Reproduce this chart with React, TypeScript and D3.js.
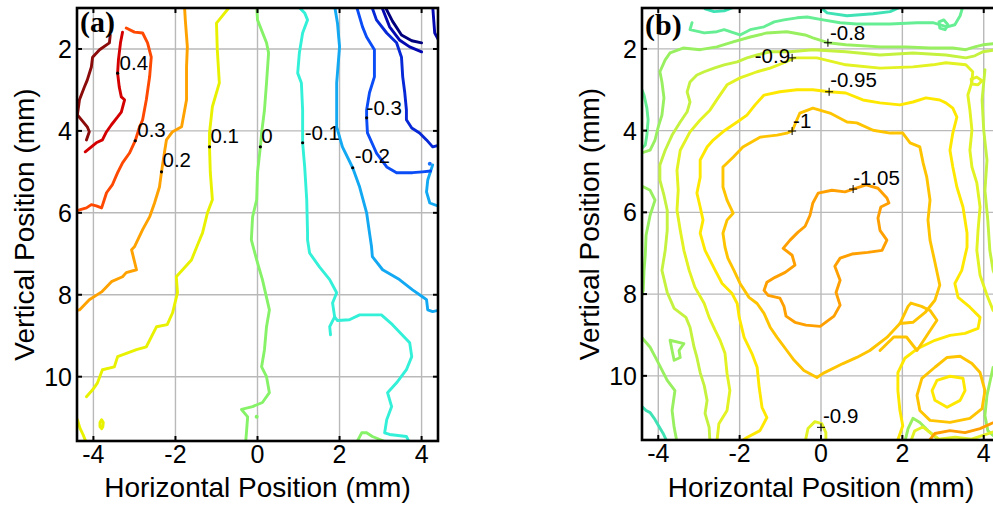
import React from "react";
import * as d3 from "d3";

type Pt = [number, number];
type Contour = { level: number; pts: Pt[]; closed?: boolean };

// ---------- axes ----------
const xDomain: [number, number] = [-4.4, 4.4];
const yDomain: [number, number] = [1.0, 11.57];
const xTickValues = [-4, -2, 0, 2, 4];
const yTickValues = [2, 4, 6, 8, 10];
const xTickLabels = ["-4", "-2", "0", "2", "4"];
const yTickLabels = ["2", "4", "6", "8", "10"];
const xLabel = "Horizontal Position (mm)";
const yLabel = "Vertical Position (mm)";

// ---------- panel (a) contour lines (x mm, y mm) ----------
const a05: Pt[] = [[-3.59,1.66],[-3.61,1.85],[-3.85,2.02],[-4.02,2.20],[-4.05,2.44],[-4.15,2.76],[-4.22,2.93],[-4.34,3.24],[-4.39,3.61],[-4.29,3.73],[-4.15,3.90],[-4.10,4.02],[-4.17,4.22]];
const a04: Pt[] = [[-3.29,1.59],[-3.34,1.85],[-3.39,2.27],[-3.41,2.59],[-3.37,2.93],[-3.32,3.17],[-3.24,3.24],[-3.32,3.54],[-3.41,3.66],[-3.56,3.85],[-3.68,4.02],[-3.78,4.22],[-3.93,4.29],[-4.20,4.51]];
const a03: Pt[] = [[-3.20,1.49],[-3.00,1.59],[-2.80,1.61],[-2.68,1.85],[-2.59,2.20],[-2.63,2.68],[-2.71,3.24],[-2.80,3.73],[-2.90,3.98],[-2.98,4.24],[-3.12,4.54],[-3.29,4.78],[-3.41,5.02],[-3.54,5.32],[-3.68,5.51],[-3.80,5.88],[-3.93,5.83],[-4.05,5.80],[-4.17,5.88],[-4.34,5.93],[-4.45,5.95]];
const a02: Pt[] = [[-1.78,0.95],[-1.76,1.29],[-1.71,1.95],[-1.73,2.44],[-1.73,3.24],[-1.85,3.90],[-2.07,4.02],[-2.22,4.22],[-2.27,4.54],[-2.34,5.00],[-2.39,5.37],[-2.51,5.76],[-2.63,6.10],[-2.80,6.41],[-3.00,6.83],[-3.07,6.90],[-2.95,7.39],[-3.20,7.46],[-3.29,7.56],[-3.56,7.68],[-3.80,7.93],[-4.10,8.12],[-4.34,8.37],[-4.45,8.39]];
const a01: Pt[] = [[-0.66,0.95],[-1.00,1.37],[-0.98,2.02],[-0.93,2.83],[-1.10,3.41],[-1.17,4.05],[-1.17,4.39],[-1.15,5.02],[-1.10,5.68],[-1.22,6.00],[-1.34,6.49],[-1.44,6.73],[-1.61,7.15],[-1.98,7.56],[-1.95,7.95],[-2.07,8.44],[-2.20,8.73],[-2.46,8.78],[-2.71,9.27],[-2.95,9.34],[-3.41,9.51],[-3.49,9.76],[-3.78,9.83],[-3.90,10.15],[-4.02,10.32],[-4.17,10.49]];
const a01Loop: Pt[] = [[-3.80,11.05],[-3.76,11.12],[-3.77,11.22],[-3.80,11.27],[-3.84,11.22],[-3.84,11.12]];
const a01Corner: Pt[] = [[-4.45,10.98],[-4.39,11.05],[-4.33,11.25],[-4.25,11.42],[-4.17,11.62]];
const a00: Pt[] = [[-0.02,0.95],[0.00,1.29],[0.22,1.85],[0.27,2.10],[0.22,2.83],[0.17,3.49],[0.10,4.05],[0.07,4.39],[0.00,5.02],[-0.02,5.68],[-0.12,6.10],[-0.15,6.66],[-0.02,7.15],[0.12,7.63],[0.29,8.37],[0.22,8.78],[0.17,9.34],[0.10,9.76],[0.22,10.00],[0.29,10.39],[0.12,10.63],[-0.12,10.73],[-0.39,10.80],[-0.24,10.98],[-0.27,11.37],[-0.29,11.62]];
const a00Bottom: Pt[] = [[2.41,11.62],[2.54,11.37],[2.66,11.37],[2.80,11.46],[3.15,11.60]];
const aM01: Pt[] = [[0.98,0.95],[1.15,1.12],[1.22,1.29],[1.10,1.61],[1.02,2.10],[0.98,2.59],[1.07,2.83],[1.10,3.49],[1.10,4.29],[1.15,4.88],[1.20,5.68],[1.22,6.49],[1.22,6.66],[1.27,6.98],[1.51,7.32],[1.76,7.63],[1.93,7.95],[1.83,8.20],[1.88,8.54],[1.95,8.63],[2.24,8.61],[2.49,8.49],[3.02,8.49],[3.29,8.73],[3.71,9.17],[3.76,9.51],[3.63,9.83],[3.39,10.15],[3.17,10.39],[3.27,10.73],[3.15,11.05],[3.10,11.37],[3.22,11.41],[3.63,11.46],[3.71,11.62]];
const aM01Stub: Pt[] = [[1.88,8.54],[1.76,8.78],[1.78,8.98]];
const aM02: Pt[] = [[1.88,0.95],[1.95,1.37],[2.00,1.95],[1.93,2.83],[1.93,3.90],[2.07,4.39],[2.32,4.90],[2.49,5.37],[2.66,6.00],[2.73,6.49],[2.78,6.83],[2.80,7.07],[3.05,7.39],[3.46,7.63],[3.78,7.88],[4.02,8.05],[4.12,8.12],[4.15,8.37],[4.27,8.41],[4.45,8.37]];
const aM02Edge: Pt[] = [[4.27,4.83],[4.15,5.20],[4.12,5.49],[4.20,5.76],[4.45,5.85]];
const aM03: Pt[] = [[2.41,0.95],[2.56,1.46],[2.66,1.71],[2.85,2.02],[2.85,2.68],[2.73,3.07],[2.66,3.49],[2.66,3.68],[2.68,4.05],[2.90,4.54],[3.15,4.88],[3.39,5.02],[3.78,5.02],[4.02,5.00],[4.22,4.98]];
const aM04: Pt[] = [[2.78,0.95],[2.90,1.29],[3.15,1.61],[3.39,1.85],[3.51,2.20],[3.54,2.68],[3.59,3.07],[3.63,3.49],[3.63,3.73],[3.76,3.93],[3.95,4.05],[4.12,4.22],[4.27,4.39],[4.45,4.34]];
const aM05: Pt[] = [[3.02,0.95],[3.22,1.46],[3.46,1.78],[3.71,1.95],[4.00,2.07]];
const aM06: Pt[] = [[3.10,0.95],[3.29,1.32],[3.51,1.66],[3.76,1.80],[4.00,1.85]];
const aM05Edge: Pt[] = [[4.27,0.95],[4.32,1.61],[4.45,1.85]];

const contoursA: Contour[] = [
  { level: 0.5, pts: a05 }, { level: 0.4, pts: a04 }, { level: 0.3, pts: a03 },
  { level: 0.2, pts: a02 }, { level: 0.1, pts: a01 }, { level: 0.1, pts: a01Loop, closed: true },
  { level: 0.1, pts: a01Corner }, { level: 0, pts: a00 }, { level: 0, pts: a00Bottom },
  { level: -0.1, pts: aM01 }, { level: -0.1, pts: aM01Stub }, { level: -0.2, pts: aM02 },
  { level: -0.2, pts: aM02Edge }, { level: -0.3, pts: aM03 }, { level: -0.4, pts: aM04 },
  { level: -0.5, pts: aM05 }, { level: -0.6, pts: aM06 }, { level: -0.5, pts: aM05Edge },
];
const colorsA: Record<string, string> = {
  "0.5": "#8b0a0a", "0.4": "#d40000", "0.3": "#ff4800", "0.2": "#ffa200", "0.1": "#e8f200",
  "0": "#86f268", "-0.1": "#33f0d8", "-0.2": "#12a8f2", "-0.3": "#0a4cf5", "-0.4": "#0628d6",
  "-0.5": "#0408b0", "-0.6": "#00007e",
};
const aSpots: Pt[] = [[4.20, 4.80], [-0.02, 10.98]];
const aSpotLevels = [-0.25, 0];

const aLabelText = ["0.4", "0.3", "0.2", "0.1", "0", "-0.1", "-0.2", "-0.3"];
const aLabelAt: Pt[] = [[-3.41,2.59],[-2.98,4.24],[-2.34,5.00],[-1.17,4.39],[0.07,4.39],[1.10,4.29],[2.32,4.90],[2.66,3.68]];

// ---------- panel (b) contour lines ----------
const bM105: Pt[] = [[0.79,5.43],[1.11,5.33],[1.40,5.41],[1.62,5.65],[1.67,5.77],[1.47,5.87],[1.40,6.14],[1.45,6.44],[1.62,6.68],[1.50,6.93],[1.15,6.98],[0.76,7.02],[0.47,7.12],[0.34,7.32],[0.47,7.66],[0.37,7.96],[0.47,8.27],[0.32,8.54],[-0.02,8.79],[-0.37,8.76],[-0.64,8.69],[-0.86,8.54],[-0.91,8.30],[-1.01,8.10],[-1.30,8.03],[-1.40,7.91],[-1.33,7.71],[-1.13,7.59],[-0.88,7.47],[-0.64,7.29],[-0.71,7.05],[-0.93,6.88],[-0.76,6.68],[-0.57,6.49],[-0.39,6.34],[-0.27,6.07],[-0.20,5.77],[-0.07,5.53],[0.27,5.46],[0.59,5.50]];
const bM100: Pt[] = [[-0.71,4.01],[-0.52,3.57],[-0.20,3.45],[0.22,3.57],[0.64,3.79],[0.88,3.81],[1.28,3.99],[1.70,4.06],[2.01,4.06],[2.19,4.30],[2.43,4.40],[2.51,4.79],[2.60,5.14],[2.68,5.70],[2.63,6.19],[2.68,6.68],[2.80,7.22],[2.92,7.78],[2.80,8.15],[2.56,8.45],[2.26,8.69],[1.94,8.72],[1.62,9.06],[1.20,9.38],[0.88,9.55],[0.54,9.70],[0.05,9.94],[-0.10,10.04],[-0.42,9.87],[-0.66,9.62],[-0.84,9.38],[-1.08,9.06],[-1.25,8.81],[-1.40,8.47],[-1.57,8.23],[-1.77,8.08],[-1.99,7.74],[-2.14,7.42],[-2.29,7.12],[-2.36,6.85],[-2.41,6.51],[-2.31,6.19],[-2.16,6.02],[-2.31,5.70],[-2.41,5.38],[-2.41,4.89],[-2.16,4.65],[-1.92,4.40],[-1.50,4.16],[-1.08,4.11],[-0.84,4.06]];
const bM100Tail: Pt[] = [[1.94,8.72],[2.14,8.30],[2.21,8.22],[2.47,8.30],[2.68,8.40],[2.85,8.64],[2.61,9.00],[2.36,9.38],[2.10,9.05],[1.79,9.05],[1.45,9.38]];
const bM095: Pt[] = [[1.87,11.62],[2.01,11.22],[1.94,10.85],[1.89,10.36],[1.89,9.92],[2.06,9.57],[2.38,9.33],[2.80,9.13],[3.17,9.01],[3.54,8.96],[3.86,8.84],[3.91,8.57],[3.66,8.32],[3.37,8.08],[3.29,7.74],[3.46,7.42],[3.59,6.85],[3.59,6.51],[3.49,5.87],[3.34,5.38],[3.24,4.89],[3.17,4.48],[3.24,4.06],[3.34,3.67],[3.24,3.45],[3.07,3.32],[2.92,3.25],[2.58,3.20],[2.26,3.30],[1.94,3.37],[1.45,3.32],[1.03,3.25],[0.61,3.08],[0.20,3.05],[-0.20,3.00],[-0.59,3.00],[-1.01,3.05],[-1.40,3.13],[-1.62,3.37],[-1.82,3.62],[-2.06,3.79],[-2.36,3.99],[-2.65,4.23],[-2.80,4.40],[-2.97,4.72],[-2.97,5.14],[-3.05,5.53],[-2.97,5.87],[-2.90,6.19],[-2.97,6.51],[-2.85,6.93],[-2.60,7.42],[-2.43,7.74],[-2.19,7.98],[-2.06,8.23],[-2.01,8.57],[-1.89,9.06],[-1.70,9.45],[-1.57,9.79],[-1.52,10.28],[-1.45,10.77],[-1.33,11.02],[-1.50,11.34],[-1.82,11.51],[-1.99,11.62]];
const bM090: Pt[] = [[-2.56,11.62],[-2.51,11.17],[-2.31,10.85],[-2.24,10.36],[-2.31,9.94],[-2.36,9.45],[-2.48,9.13],[-2.60,8.89],[-2.75,8.57],[-2.87,8.23],[-3.10,7.83],[-3.24,7.42],[-3.37,6.93],[-3.46,6.44],[-3.54,5.95],[-3.51,5.46],[-3.54,4.97],[-3.46,4.48],[-3.22,4.03],[-2.97,3.74],[-2.73,3.50],[-2.53,3.20],[-2.31,2.88],[-1.99,2.71],[-1.57,2.56],[-1.25,2.47],[-0.91,2.34],[-0.66,2.22],[-0.10,2.22],[0.61,2.39],[1.45,2.47],[2.26,2.44],[2.75,2.39],[3.07,2.34],[3.56,2.39],[3.73,2.56],[3.71,2.81],[3.61,3.13],[3.66,3.50],[3.71,3.99],[3.66,4.48],[3.71,4.89],[3.83,5.28],[3.91,5.87],[3.86,6.44],[3.83,6.93],[3.91,7.54],[4.08,8.03],[4.23,8.40],[4.45,8.60]];
const bM085: Pt[] = [[-2.73,11.62],[-2.75,11.26],[-2.85,10.92],[-2.80,10.60],[-2.87,10.24],[-2.97,9.92],[-3.05,9.55],[-3.12,9.30],[-3.22,8.81],[-3.32,8.57],[-3.61,8.35],[-3.78,7.96],[-3.91,7.42],[-3.83,6.93],[-3.78,6.44],[-3.78,5.95],[-3.86,5.58],[-3.96,5.21],[-3.96,4.84],[-3.83,4.48],[-3.66,4.11],[-3.46,3.79],[-3.29,3.54],[-3.22,3.30],[-3.29,3.05],[-3.22,2.81],[-3.05,2.64],[-2.87,2.56],[-2.63,2.47],[-2.38,2.39],[-2.06,2.32],[-1.82,2.22],[-1.57,2.15],[-1.25,2.07],[-0.76,2.07],[-0.20,2.02],[0.61,2.07],[1.45,2.15],[2.26,2.10],[3.07,2.15],[3.56,2.22],[3.78,2.17],[3.98,2.07],[4.45,2.00]];
const bM085Right: Pt[] = [[4.03,2.51],[3.96,3.25],[4.00,3.99],[4.08,4.72],[4.03,5.46],[4.10,6.19],[4.15,6.93],[4.23,7.42],[4.35,7.70]];
const bM080: Pt[] = [[-4.45,4.56],[-4.20,4.48],[-4.08,4.23],[-4.00,3.91],[-3.91,3.62],[-3.86,3.20],[-3.91,2.81],[-3.96,2.56],[-3.83,2.27],[-3.71,2.10],[-3.39,1.98],[-2.97,2.02],[-2.56,1.95],[-2.16,1.83],[-1.74,1.71],[-1.33,1.61],[-0.84,1.58],[-0.39,1.66],[-0.20,1.73],[0.17,1.85],[0.61,1.90],[1.45,1.95],[2.09,1.95],[2.68,1.98],[3.24,1.98],[3.56,2.02],[3.78,1.95],[3.98,1.90],[4.45,1.85]];
const bM080Left: Pt[] = [[-4.45,5.33],[-4.20,5.46],[-4.08,5.70],[-4.20,6.07],[-4.30,6.56],[-4.32,7.05],[-4.35,7.42],[-4.37,7.91],[-4.45,8.23]];
const bM080Low: Pt[] = [[-4.45,9.01],[-4.20,9.30],[-4.03,9.62],[-3.78,10.11],[-3.59,10.36],[-3.66,10.85],[-3.61,11.26],[-3.54,11.62]];
const bM080Loop: Pt[] = [[-3.71,9.13],[-3.37,9.21],[-3.49,9.38],[-3.46,9.55],[-3.61,9.62],[-3.66,9.38]];
const bM080Corner: Pt[] = [[2.06,11.62],[2.14,11.29],[2.26,11.04],[2.43,11.14],[2.63,11.34],[2.83,11.51],[2.92,11.62]];
const bM080Edge: Pt[] = [[4.45,9.70],[4.23,9.79],[4.08,10.48],[4.03,10.97],[4.10,11.34],[4.23,11.46],[4.45,11.50]];
const bM075: Pt[] = [[-3.17,1.36],[-3.22,1.53],[-2.87,1.61],[-2.56,1.58],[-2.38,1.53],[-2.14,1.61],[-1.99,1.66],[-1.74,1.53],[-1.40,1.46],[-1.15,1.34],[-0.91,1.29],[-0.59,1.24],[-0.34,1.22],[0.05,1.29],[0.47,1.36],[0.88,1.39],[1.70,1.39],[2.36,1.36],[2.75,1.36],[3.10,1.46],[3.29,1.41],[3.42,1.19],[3.49,0.95]];
const bM075Edge: Pt[] = [[-4.45,2.88],[-4.35,3.13],[-4.28,3.45],[-4.25,3.74],[-4.28,4.11],[-4.32,4.35],[-4.45,4.48]];
const bM075Loop: Pt[] = [[2.90,1.34],[3.02,1.29],[3.12,1.41],[3.05,1.53],[2.92,1.49]];
const bM070Top1: Pt[] = [[-2.85,1.02],[-2.63,1.09],[-2.38,1.07],[-2.14,0.98]];
const bM070Top2: Pt[] = [[-0.02,0.98],[0.15,1.12],[0.64,1.19],[1.28,1.14],[1.70,1.09],[1.94,0.98]];
const bM070Low: Pt[] = [[-4.45,10.70],[-4.30,10.85],[-4.20,10.90],[-4.10,11.04],[-4.00,11.21],[-3.88,11.41],[-3.78,11.62]];
const bM090Loop: Pt[] = [[3.69,2.74],[3.83,2.69],[3.96,2.78],[3.86,2.88],[3.71,2.86]];
const bM090Bottom: Pt[] = [[-0.39,11.62],[-0.32,11.29],[-0.15,11.12],[0.02,11.17],[0.12,11.39],[0.12,11.62]];
const bM090Corner: Pt[] = [[2.20,11.62],[2.30,11.35],[2.50,11.25],[2.70,11.40],[2.90,11.55],[3.30,11.50],[3.70,11.55],[4.00,11.45],[4.45,11.30]];
const bM095Loop: Pt[] = [[2.85,10.11],[3.17,10.01],[3.49,10.06],[3.54,10.36],[3.42,10.60],[3.10,10.77],[2.80,10.60],[2.73,10.36]];
const bM100Loop: Pt[] = [[2.80,9.79],[3.10,9.55],[3.42,9.52],[3.71,9.70],[3.91,9.92],[4.03,10.36],[3.96,10.80],[3.66,11.04],[3.17,11.14],[2.68,11.09],[2.43,10.85],[2.36,10.48],[2.48,10.06]];
const bM105Bottom: Pt[] = [[2.63,11.62],[2.80,11.41],[3.17,11.34],[3.54,11.39],[3.91,11.29],[4.45,11.05]];

const contoursB: Contour[] = [
  { level: -0.7, pts: bM070Top1 }, { level: -0.7, pts: bM070Top2 }, { level: -0.7, pts: bM070Low },
  { level: -0.75, pts: bM075 }, { level: -0.75, pts: bM075Edge }, { level: -0.75, pts: bM075Loop, closed: true },
  { level: -0.8, pts: bM080 }, { level: -0.8, pts: bM080Left }, { level: -0.8, pts: bM080Low },
  { level: -0.8, pts: bM080Loop, closed: true }, { level: -0.8, pts: bM080Corner }, { level: -0.8, pts: bM080Edge },
  { level: -0.85, pts: bM085 }, { level: -0.85, pts: bM085Right },
  { level: -0.9, pts: bM090 }, { level: -0.9, pts: bM090Loop, closed: true }, { level: -0.9, pts: bM090Bottom },
  { level: -0.9, pts: bM090Corner },
  { level: -0.95, pts: bM095 }, { level: -0.95, pts: bM095Loop, closed: true },
  { level: -1.0, pts: bM100, closed: true }, { level: -1.0, pts: bM100Loop, closed: true }, { level: -1.0, pts: bM100Tail },
  { level: -1.05, pts: bM105, closed: true }, { level: -1.05, pts: bM105Bottom },
];
const colorsB: Record<string, string> = {
  "-0.7": "#3fe2b4", "-0.75": "#66ee94", "-0.8": "#98f060", "-0.85": "#c4f23e",
  "-0.9": "#e2f222", "-0.95": "#ffe800", "-1": "#ffc400", "-1.05": "#ffa000",
};

const bLabelText = ["-0.8", "-0.9", "-0.95", "-1", "-1.05", "-0.9"];
const bLabelAt: Pt[] = [[0.17,1.85],[-0.71,2.22],[0.20,3.05],[-0.71,4.01],[0.79,5.43],[0.00,11.26]];

// ---------- layout (styles, not data) ----------
const W = 993, H = 509;
const frameA = { left: 77, right: 438, top: 8, bottom: 441 };
const frameB = { left: 642, right: 1000, top: 8, bottom: 440 };
const aLabelOffsets: [number, number, string][] = [[2,-3,"start"],[2,-4,"start"],[1,-5,"start"],[1,-4,"start"],[1,-4,"start"],[2,-3,"start"],[2,-5,"start"],[0,-3,"start"]];
const bLabelOffsets: [number, number, string][] = [[2,-3,"start"],[-2,5,"end"],[1,-5,"start"],[1,-3,"start"],[0,-4,"start"],[2,-4,"start"]];
const FONT = "'Liberation Sans', Arial, Helvetica, sans-serif";

type Frame = { left: number; right: number; top: number; bottom: number };

function Panel(props: {
  id: string; frame: Frame; contours: Contour[]; colors: Record<string, string>;
  labels: string[]; labelAt: Pt[]; offsets: [number, number, string][];
  marker: "dot" | "plus"; tag: string; tagX: number; tagY: number;
  spots?: Pt[]; spotLevels?: number[];
}) {
  const { id, frame, contours, colors, labels, labelAt, offsets, marker, tag } = props;
  const xs = d3.scaleLinear().domain(xDomain).range([frame.left, frame.right]);
  const ys = d3.scaleLinear().domain(yDomain).range([frame.top, frame.bottom]);
  const lineOpen = d3.line<Pt>().x((d) => xs(d[0])).y((d) => ys(d[1]));
  const lineClosed = d3.line<Pt>().x((d) => xs(d[0])).y((d) => ys(d[1])).curve(d3.curveLinearClosed);
  const colorOf = (lv: number) => colors[String(Math.round(lv * 100) / 100)] || "#000";
  const tickLen = 5;
  const cx = (frame.left + frame.right) / 2;
  const cy = (frame.top + frame.bottom) / 2;
  return (
    <g>
      <defs>
        <clipPath id={id}>
          <rect x={frame.left} y={frame.top} width={frame.right - frame.left} height={frame.bottom - frame.top} />
        </clipPath>
      </defs>
      <rect x={frame.left} y={frame.top} width={frame.right - frame.left} height={frame.bottom - frame.top} fill="#fff" />
      <g stroke="#b9b9b9" strokeWidth={1.4}>
        {xTickValues.map((v) => (
          <line key={"gx" + v} x1={xs(v)} x2={xs(v)} y1={frame.top} y2={frame.bottom} />
        ))}
        {yTickValues.map((v) => (
          <line key={"gy" + v} x1={frame.left} x2={frame.right} y1={ys(v)} y2={ys(v)} />
        ))}
      </g>
      <g clipPath={`url(#${id})`} fill="none" strokeWidth={2.9} strokeLinejoin="round" strokeLinecap="round">
        {contours.map((c, i) => (
          <path key={i} d={(c.closed ? lineClosed : lineOpen)(c.pts) || ""} stroke={colorOf(c.level)} />
        ))}
        {(props.spots || []).map((p, i) => (
          <circle key={"s" + i} cx={xs(p[0])} cy={ys(p[1])} r={2}
            fill={(props.spotLevels || [])[i] === 0 ? colors["0"] : "#1870ff"} stroke="none" />
        ))}
      </g>
      <g fontFamily={FONT} fontSize={20.5} fill="#000">
        {labels.map((t, i) => {
          const px = xs(labelAt[i][0]);
          const py = ys(labelAt[i][1]);
          const [dx, dy, anchor] = offsets[i];
          return (
            <g key={"l" + i}>
              {marker === "dot" ? (
                <circle cx={px} cy={py} r={1.6} fill="#000" />
              ) : (
                <path d={`M${px - 4},${py}H${px + 4}M${px},${py - 4}V${py + 4}`} stroke="#000" strokeWidth={1} />
              )}
              <text x={px + dx} y={py + dy} textAnchor={anchor as any}>{t}</text>
            </g>
          );
        })}
      </g>
      <g stroke="#000" strokeWidth={2}>
        {xTickValues.map((v) => (
          <g key={"tx" + v}>
            <line x1={xs(v)} x2={xs(v)} y1={frame.bottom} y2={frame.bottom - tickLen} />
            <line x1={xs(v)} x2={xs(v)} y1={frame.top} y2={frame.top + tickLen} />
          </g>
        ))}
        {yTickValues.map((v) => (
          <g key={"ty" + v}>
            <line x1={frame.left} x2={frame.left + tickLen} y1={ys(v)} y2={ys(v)} />
            <line x1={frame.right} x2={frame.right - tickLen} y1={ys(v)} y2={ys(v)} />
          </g>
        ))}
      </g>
      <rect x={frame.left} y={frame.top} width={frame.right - frame.left} height={frame.bottom - frame.top}
        fill="none" stroke="#000" strokeWidth={2.6} />
      <g fontFamily={FONT} fontSize={25} fill="#000">
        {xTickValues.map((v, i) => (
          <text key={"xl" + v} x={xs(v)} y={frame.bottom + 22} textAnchor="middle">{xTickLabels[i]}</text>
        ))}
        {yTickValues.map((v, i) => (
          <text key={"yl" + v} x={frame.left - 5} y={ys(v) + 9} textAnchor="end">{yTickLabels[i]}</text>
        ))}
      </g>
      <text x={cx} y={497} textAnchor="middle" fontFamily={FONT} fontSize={28}>{xLabel}</text>
      <text transform={`translate(${frame.left - 43},${cy}) rotate(-90)`} textAnchor="middle" fontFamily={FONT} fontSize={28}>{yLabel}</text>
      <text x={props.tagX} y={props.tagY} fontFamily="'Liberation Serif', 'Times New Roman', serif" fontWeight="bold" fontSize={30}>{tag}</text>
    </g>
  );
}

export default function App() {
  return (
    <svg width={W} height={H} viewBox={`0 0 ${W} ${H}`}
      style={{ position: "absolute", left: 0, top: 0, background: "#fff", display: "block" }}>
      <rect x={0} y={0} width={W} height={H} fill="#fff" />
      <Panel id="clipA" frame={frameA} contours={contoursA} colors={colorsA}
        labels={aLabelText} labelAt={aLabelAt} offsets={aLabelOffsets} marker="dot"
        tag="(a)" tagX={80} tagY={32} spots={aSpots} spotLevels={aSpotLevels} />
      <Panel id="clipB" frame={frameB} contours={contoursB} colors={colorsB}
        labels={bLabelText} labelAt={bLabelAt} offsets={bLabelOffsets} marker="plus"
        tag="(b)" tagX={645} tagY={35} />
    </svg>
  );
}
